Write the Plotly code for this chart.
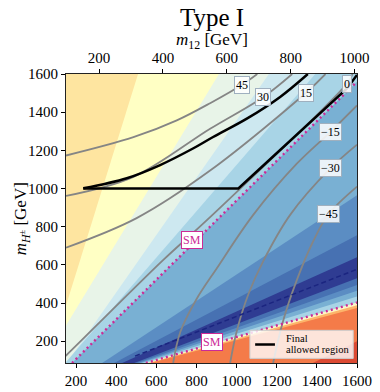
import plotly.graph_objects as go

# axes (bottom: mA-like scale, top: m12, left: charged Higgs mass)
x_range = [150, 1600]
y_range = [86, 1600]
m12_range = [96.6, 1007.5]
x_ticks = [200, 400, 600, 800, 1000, 1200, 1400, 1600]
y_ticks = [200, 400, 600, 800, 1000, 1200, 1400, 1600]
m12_ticks = [200, 400, 600, 800, 1000]

# filled bands: boundary i goes through (x0,y0)-(x1,y1); below/right of it -> colour i
edge_x0 = [290, 484, 669, 783, 180, 330, 390, 430, 490, 505, 518, 530, 548, 560, 572, 1380]
edge_y0 = [860, 860, 860, 860, 86, 86, 86, 86, 86, 86, 86, 86, 86, 86, 86, 86]
edge_x1 = [509, 912, 1161, 1392, 1600, 1600, 1600, 1600, 1600, 1600, 1600, 1600, 1600, 1600, 1600, 1600]
edge_y1 = [1600, 1600, 1600, 1600, 1560, 965, 755, 640, 530, 494, 465, 435, 403, 388, 374, 200]
top_left_color = "#fee5a0"
band_colors = ["#ffffc4", "#e8f4e8", "#cde8f0", "#a8d4e6", "#79b0d3", "#5b8dc3",
               "#4771b2", "#2f3c92", "#4771b2", "#5b8dc3", "#79b0d3", "#a8d4e6",
               "#fdf5c6", "#fdb46a", "#f47b49", "#dc4a33"]

# gray contour lines (degrees)
c45_x = [150, 486, 702, 868, 1029, 1103]
c45_y = [1173, 1269, 1357, 1447, 1545, 1600]
c30_x = [150, 486, 868, 1134, 1277]
c30_y = [961, 1061, 1313, 1480, 1600]
c15_x = [150, 502, 868, 1347, 1443]
c15_y = [690, 845, 1094, 1503, 1600]
c0_x = [110, 153, 635, 868, 1550, 1578]
c0_y = [86, 128, 626, 850, 1550, 1600]
cm15_x = [684, 720, 800, 900, 1083, 1300, 1467, 1600]
cm15_y = [86, 250, 420, 580, 862, 1130, 1296, 1435]
cm30_x = [968, 1000, 1060, 1133, 1267, 1467, 1600]
cm30_y = [86, 250, 450, 620, 862, 1105, 1230]
cm45_x = [1182, 1230, 1300, 1380, 1458, 1600]
cm45_y = [86, 300, 520, 720, 865, 1010]
contour_labels = ["45", "30", "15", "0", "\u221215", "\u221230", "\u221245"]
label_x = [1029, 1134, 1347, 1550, 1467, 1467, 1458]
label_y = [1545, 1480, 1503, 1550, 1296, 1105, 865]

# SM lines (dotted) and the pole (dashed)
sm_up_x = [180, 1600]
sm_up_y = [86, 1560]
sm_low_x = [548, 1600]
sm_low_y = [86, 403]
pole_x = [494, 1600]
pole_y = [122, 577]
sm_label_x = [777, 878]
sm_label_y = [729, 195]

# final allowed region
upper_x = [236, 453, 619, 785, 883, 1051, 1217, 1355]
upper_y = [1001, 1054, 1123, 1211, 1270, 1366, 1480, 1600]
lower_x = [236, 1009, 1117, 1425, 1550, 1600]
lower_y = [1000, 1000, 1105, 1405, 1524, 1595]
legend_lines = ["Final", "allowed region"]

SERIF = "Liberation Serif, DejaVu Serif, serif"
MAGENTA = "#cc2a96"
GRAY = "#858585"


def half_plane(x0, y0, x1, y1):
    t = 5
    ax, ay = x0 - t * (x1 - x0), y0 - t * (y1 - y0)
    bx, by = x1 + t * (x1 - x0), y1 + t * (y1 - y0)
    far = 10 * x_range[1]
    return [ax, bx, far, far, ax], [ay, by, by, ay, ay]


fig = go.Figure()

for i in range(len(band_colors)):
    px, py = half_plane(edge_x0[i], edge_y0[i], edge_x1[i], edge_y1[i])
    fig.add_trace(go.Scatter(x=px, y=py, mode="lines", fill="toself",
                             fillcolor=band_colors[i], line=dict(width=0),
                             hoverinfo="skip", showlegend=False))

for cx, cy in [(c45_x, c45_y), (c30_x, c30_y), (c15_x, c15_y), (c0_x, c0_y),
               (cm15_x, cm15_y), (cm30_x, cm30_y), (cm45_x, cm45_y)]:
    fig.add_trace(go.Scatter(x=cx, y=cy, mode="lines",
                             line=dict(color=GRAY, width=1.8, shape="spline", smoothing=1),
                             hoverinfo="skip", showlegend=False))

fig.add_trace(go.Scatter(x=pole_x, y=pole_y, mode="lines",
                         line=dict(color="#1b2580", width=1.5, dash="5px,3px"),
                         hoverinfo="skip", showlegend=False))
for sx, sy in [(sm_up_x, sm_up_y), (sm_low_x, sm_low_y)]:
    fig.add_trace(go.Scatter(x=sx, y=sy, mode="lines",
                             line=dict(color=MAGENTA, width=2.4, dash="2px,3.2px"),
                             hoverinfo="skip", showlegend=False))

fig.add_trace(go.Scatter(x=upper_x, y=upper_y, mode="lines",
                         line=dict(color="black", width=2.5, shape="spline"),
                         hoverinfo="skip", showlegend=False))
fig.add_trace(go.Scatter(x=lower_x, y=lower_y, mode="lines",
                         line=dict(color="black", width=2.5),
                         hoverinfo="skip", showlegend=False))

# dummy trace so the top (m12) axis is drawn
fig.add_trace(go.Scatter(x=m12_ticks, y=[y_range[0]] * len(m12_ticks), xaxis="x2",
                         mode="markers", marker=dict(opacity=0), hoverinfo="skip",
                         showlegend=False))

for t, lx, ly in zip(contour_labels, label_x, label_y):
    fig.add_annotation(x=lx, y=ly, text=t, showarrow=False,
                       font=dict(family=SERIF, size=12, color="black"),
                       bgcolor="rgba(255,255,255,0.85)", bordercolor="#9fb0bf",
                       borderwidth=1, borderpad=1)
for lx, ly in zip(sm_label_x, sm_label_y):
    fig.add_annotation(x=lx, y=ly, text="SM", showarrow=False,
                       font=dict(family=SERIF, size=12, color=MAGENTA),
                       bgcolor="white", bordercolor=MAGENTA, borderwidth=1, borderpad=1)

# legend box drawn by hand (matplotlib style: short line, two-line label)
fig.add_shape(type="rect", xref="paper", yref="paper", x0=0.632, x1=0.987, y0=0.016, y1=0.113,
              fillcolor="rgba(255,255,255,0.8)", line=dict(color="#cccccc", width=1))
fig.add_shape(type="line", xref="paper", yref="paper", x0=0.650, x1=0.718, y0=0.064, y1=0.064,
              line=dict(color="black", width=2.5))
for txt, ty in zip(legend_lines, [0.086, 0.046]):
    fig.add_annotation(xref="paper", yref="paper", x=0.748, y=ty, text=txt,
                       xanchor="left", yanchor="middle", showarrow=False,
                       font=dict(family=SERIF, size=10.5, color="black"))

fig.add_annotation(xref="paper", yref="paper", x=0.5, y=1.196, text="Type I",
                   xanchor="center", yanchor="middle",
                   showarrow=False, font=dict(family=SERIF, size=25, color="black"))
fig.add_annotation(xref="paper", yref="paper", x=0.5, y=1.114,
                   text="<i>m</i><sub>12</sub> [GeV]", xanchor="center", yanchor="middle",
                   showarrow=False, font=dict(family=SERIF, size=17, color="black"))
fig.add_annotation(xref="paper", yref="paper", x=-0.152, y=0.5, textangle=-90,
                   text="<i>m</i><sub><i>H</i><sup>\u00b1</sup></sub> [GeV]",
                   xanchor="center", yanchor="middle",
                   showarrow=False, font=dict(family=SERIF, size=17, color="black"))

tickfont = dict(family=SERIF, size=15, color="black")
fig.update_layout(
    template="none",
    width=380, height=392,
    margin=dict(l=66, r=23, t=74, b=29),
    paper_bgcolor="white",
    plot_bgcolor=top_left_color,
    xaxis=dict(range=x_range, tickvals=x_ticks, ticks="outside", ticklen=4,
               tickcolor="black", showline=True, linecolor="#222", linewidth=1,
               mirror=True, showgrid=False, zeroline=False, tickfont=tickfont,
               automargin=False),
    xaxis2=dict(range=m12_range, tickvals=m12_ticks, overlaying="x", side="top",
                ticks="outside", ticklen=4, tickcolor="black", showline=False,
                showgrid=False, zeroline=False, tickfont=tickfont, automargin=False),
    yaxis=dict(range=y_range, tickvals=y_ticks, ticks="outside", ticklen=4,
               tickcolor="black", showline=True, linecolor="#222", linewidth=1,
               mirror=True, showgrid=False, zeroline=False, tickfont=tickfont,
               automargin=False),
    showlegend=False,
)

# the page body has an 8px default margin; drop it so the figure sits at the corner
fig.write_html("out.html", config={"displayModeBar": False},
               post_script="document.body.style.margin='0';")
